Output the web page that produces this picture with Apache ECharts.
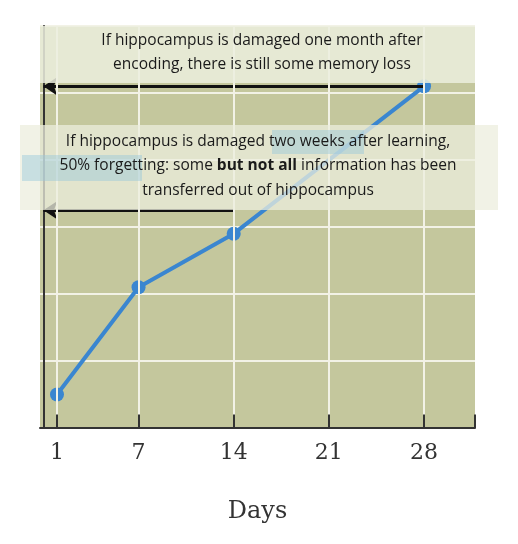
<!DOCTYPE html>
<html><head><meta charset="utf-8">
<script src="https://cdn.jsdelivr.net/npm/echarts@6/dist/echarts.min.js"></script>
<style>html,body{margin:0;padding:0;background:#fff}#main{width:518px;height:544px}</style>
</head><body><div id="main"></div>
<script>
var days = [1, 7, 14, 28];
var retention = [0.5, 2.1, 2.9, 5.1];
var dayTicks = [1, 7, 14, 21, 28];
var arrowOneMonth = [[28, 5.1], [0, 5.1]];
var arrowTwoWeeks = [[14, 3.25], [0, 3.25]];

var myChart = echarts.init(document.getElementById('main'));
var textStyle = {fontFamily: 'Open Sans', fontSize: 15.5, fill: '#1a1a1a', textAlign: 'center'};
option = {
  animation: false,
  grid: {left: 40, right: 43, top: 26, bottom: 116, show: true, backgroundColor: '#c4c79d', borderWidth: 0},
  xAxis: {
    type: 'value', min: -0.25, max: 31.75,
    name: 'Days', nameLocation: 'middle', nameGap: 72,
    nameTextStyle: {fontFamily: 'DejaVu Serif', fontSize: 24, color: '#333'},
    axisLine: {lineStyle: {color: '#333', width: 2}},
    axisTick: {show: false},
    axisLabel: {customValues: dayTicks, fontFamily: 'DejaVu Serif', fontSize: 22, color: '#333', margin: 14},
    splitLine: {show: false}
  },
  yAxis: {
    type: 'value', min: 0, max: 6, interval: 1,
    axisLine: {show: true, lineStyle: {color: '#333', width: 2}},
    axisTick: {show: false}, axisLabel: {show: false},
    splitLine: {lineStyle: {color: '#f2f2e6', width: 2}}
  },
  series: [{
    type: 'line',
    data: days.map(function (d, i) { return [d, retention[i]]; }),
    lineStyle: {color: '#3a86d0', width: 4},
    itemStyle: {color: '#3a86d0'},
    symbol: 'circle', symbolSize: 14,
    z: 3,
    markLine: {
      silent: true, symbol: ['none', 'arrow'], symbolSize: 14,
      label: {show: false},
      lineStyle: {color: '#111', width: 3, type: 'solid'},
      data: [
        [{coord: arrowOneMonth[0]}, {coord: arrowOneMonth[1]}],
        [{coord: arrowTwoWeeks[0]}, {coord: arrowTwoWeeks[1]}]
      ]
    }
  }, {
    type: 'line', silent: true, symbol: 'none', lineStyle: {opacity: 0},
    data: [],
    markLine: {
      silent: true, symbol: 'none', label: {show: false},
      lineStyle: {color: '#f2f2e6', width: 2, type: 'solid'},
      data: dayTicks.map(function (d) { return {xAxis: d}; })
    },
    z: 1
  }, {
    type: 'line', silent: true, symbol: 'none', lineStyle: {opacity: 0},
    data: [],
    markLine: {
      silent: true, symbol: 'none', label: {show: false},
      lineStyle: {color: '#333', width: 2, type: 'solid'},
      data: dayTicks.concat([31.75]).map(function (d) { return [{coord: [d, 0]}, {coord: [d, 0.2]}]; })
    },
    z: 4
  }],
  graphic: [
    {type: 'rect', shape: {x: 40, y: 26, width: 435, height: 57}, style: {fill: 'rgba(236,238,222,0.85)'}, z: 10},
    {type: 'rect', shape: {x: 20, y: 125, width: 478, height: 85}, style: {fill: 'rgba(236,238,222,0.75)'}, z: 10},
    {type: 'rect', shape: {x: 272, y: 130, width: 92, height: 24}, style: {fill: 'rgba(150,200,220,0.45)'}, z: 11},
    {type: 'rect', shape: {x: 22, y: 155, width: 120, height: 26}, style: {fill: 'rgba(150,200,220,0.45)'}, z: 11},
    {type: 'text', x: 262, y: 33, style: Object.assign({text: 'If hippocampus is damaged one month after'}, textStyle), z: 12},
    {type: 'text', x: 262, y: 57, style: Object.assign({text: 'encoding, there is still some memory loss'}, textStyle), z: 12},
    {type: 'text', x: 258, y: 134, style: Object.assign({text: 'If hippocampus is damaged two weeks after learning,'}, textStyle), z: 12},
    {type: 'text', x: 258, y: 158, style: Object.assign({
      text: '50% forgetting: some {b|but not all} information has been',
      rich: {b: {fontFamily: 'Open Sans', fontSize: 15.5, fontWeight: 'bold', fill: '#1a1a1a'}}
    }, textStyle), z: 12},
    {type: 'text', x: 258, y: 183, style: Object.assign({text: 'transferred out of hippocampus'}, textStyle), z: 12}
  ]
};
myChart.setOption(option);
</script>
</body></html>
